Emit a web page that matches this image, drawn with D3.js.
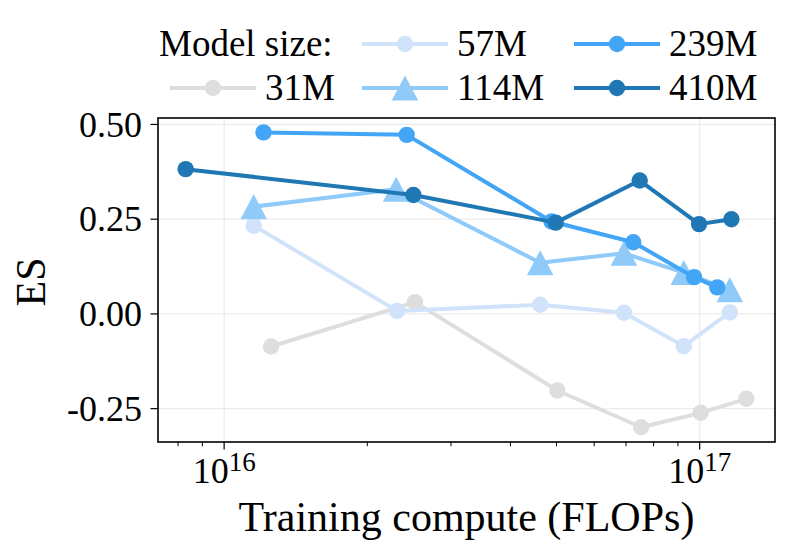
<!DOCTYPE html>
<html>
<head>
<meta charset="utf-8">
<script src="https://cdn.jsdelivr.net/npm/d3@7"></script>
<style>
  html, body { margin: 0; padding: 0; background: #fff; }
  svg { display: block; font-family: "Liberation Serif", "Times New Roman", "DejaVu Serif", serif; }
</style>
</head>
<body>
<svg id="chart" width="792" height="557"></svg>
<script>
// ---- data ----
const seriesNames = ["31M", "57M", "114M", "239M", "410M"];
const seriesColors = ["#dedede", "#d0e3fa", "#90caf9", "#42a5f5", "#1f77b4"];
const seriesMarkers = ["circle", "circle", "triangle", "circle", "circle"];

const compute31M  = [1.255e16, 2.52e16, 5.02e16, 7.53e16, 1.005e17, 1.253e17];
const es31M       = [-0.086, 0.031, -0.202, -0.299, -0.261, -0.224];
const compute57M  = [1.154e16, 2.31e16, 4.62e16, 6.93e16, 9.26e16, 1.157e17];
const es57M       = [0.233, 0.008, 0.024, 0.003, -0.085, 0.004];
const compute114M = [1.154e16, 2.30e16, 4.62e16, 6.93e16, 9.26e16, 1.157e17];
const es114M      = [0.283, 0.329, 0.135, 0.160, 0.109, 0.064];
const compute239M = [1.21e16, 2.42e16, 4.88e16, 7.25e16, 9.73e16, 1.089e17];
const es239M      = [0.479, 0.4725, 0.244, 0.189, 0.097, 0.070];
const compute410M = [8.3e15, 2.5e16, 4.98e16, 7.48e16, 9.97e16, 1.166e17];
const es410M      = [0.382, 0.314, 0.241, 0.352, 0.237, 0.250];

const yTicks = [0.50, 0.25, 0.00, -0.25];
const yTickLabels = ["0.50", "0.25", "0.00", "-0.25"];
const xMajorTicks = [1e16, 1e17];
const xMajorExponents = ["16", "17"];
const xMinorTicks = [8e15, 9e15, 2e16, 3e16, 4e16, 5e16, 6e16, 7e16, 8e16, 9e16];

const legendTitle = "Model size:";
const xLabel = "Training compute (FLOPs)";
const yLabel = "ES";

const allCompute = [compute31M, compute57M, compute114M, compute239M, compute410M];
const allES = [es31M, es57M, es114M, es239M, es410M];

// ---- layout ----
const svg = d3.select("#chart");
const plot = { left: 158, right: 775, top: 118, bottom: 442 };

const x = d3.scaleLog().domain([7.26e15, 1.44e17]).range([plot.left, plot.right]);
const y = d3.scaleLinear().domain([-0.338, 0.517]).range([plot.bottom, plot.top]);

const tickFont = 36;
const labelFont = 42;

// grid
const grid = svg.append("g");
grid.selectAll("line.gy").data(yTicks).join("line")
  .attr("x1", plot.left).attr("x2", plot.right)
  .attr("y1", d => y(d)).attr("y2", d => y(d))
  .attr("stroke", "#ebebeb").attr("stroke-width", 1.2);
grid.selectAll("line.gx").data(xMajorTicks).join("line")
  .attr("y1", plot.top).attr("y2", plot.bottom)
  .attr("x1", d => x(d)).attr("x2", d => x(d))
  .attr("stroke", "#ebebeb").attr("stroke-width", 1.2);

// series
const line = d3.line().x(d => x(d[0])).y(d => y(d[1]));
function trianglePath(cx, cy, hw, hh) {
  return `M${cx},${cy - hh}L${cx + hw},${cy + hh}L${cx - hw},${cy + hh}Z`;
}

seriesNames.forEach((name, i) => {
  const pts = allCompute[i].map((c, j) => [c, allES[i][j]]);
  const g = svg.append("g");
  g.append("path").datum(pts)
    .attr("d", line)
    .attr("fill", "none")
    .attr("stroke", seriesColors[i])
    .attr("stroke-width", 4)
    .attr("stroke-linejoin", "round")
    .attr("stroke-linecap", "butt");
  if (seriesMarkers[i] === "triangle") {
    g.selectAll("path.m").data(pts).join("path")
      .attr("class", "m")
      .attr("d", d => trianglePath(x(d[0]), y(d[1]), 13.3, 12.5))
      .attr("fill", seriesColors[i]);
  } else {
    g.selectAll("circle").data(pts).join("circle")
      .attr("cx", d => x(d[0])).attr("cy", d => y(d[1]))
      .attr("r", 8.2)
      .attr("fill", seriesColors[i]);
  }
});

// axes frame
svg.append("rect")
  .attr("x", plot.left).attr("y", plot.top)
  .attr("width", plot.right - plot.left).attr("height", plot.bottom - plot.top)
  .attr("fill", "none").attr("stroke", "#000").attr("stroke-width", 1.6);

// y axis ticks
const yAxis = svg.append("g");
yAxis.selectAll("line").data(yTicks).join("line")
  .attr("x1", plot.left - 7.5).attr("x2", plot.left)
  .attr("y1", d => y(d)).attr("y2", d => y(d))
  .attr("stroke", "#000").attr("stroke-width", 1.2);
yAxis.selectAll("text").data(yTicks).join("text")
  .attr("x", plot.left - 16)
  .attr("y", d => y(d))
  .attr("dy", "0.34em")
  .attr("text-anchor", "end")
  .attr("font-size", tickFont)
  .attr("fill", "#000")
  .text((d, i) => yTickLabels[i]);

// x axis ticks
const xAxis = svg.append("g");
xAxis.selectAll("line.maj").data(xMajorTicks).join("line")
  .attr("class", "maj")
  .attr("x1", d => x(d)).attr("x2", d => x(d))
  .attr("y1", plot.bottom).attr("y2", plot.bottom + 7.5)
  .attr("stroke", "#000").attr("stroke-width", 1.2);
xAxis.selectAll("line.min").data(xMinorTicks).join("line")
  .attr("class", "min")
  .attr("x1", d => x(d)).attr("x2", d => x(d))
  .attr("y1", plot.bottom).attr("y2", plot.bottom + 4.2)
  .attr("stroke", "#000").attr("stroke-width", 1);
const xt = xAxis.selectAll("text").data(xMajorTicks).join("text")
  .attr("x", d => x(d))
  .attr("y", 483)
  .attr("text-anchor", "middle")
  .attr("font-size", tickFont)
  .attr("fill", "#000");
xt.append("tspan").text("10");
xt.append("tspan").attr("dy", -12).attr("font-size", 27).text((d, i) => xMajorExponents[i]);

// axis labels
svg.append("text")
  .attr("x", (plot.left + plot.right) / 2)
  .attr("y", 531)
  .attr("text-anchor", "middle")
  .attr("font-size", labelFont)
  .attr("fill", "#000")
  .text(xLabel);
svg.append("text")
  .attr("transform", `translate(45,${(plot.top + plot.bottom) / 2 + 2}) rotate(-90)`)
  .attr("text-anchor", "middle")
  .attr("font-size", labelFont)
  .attr("fill", "#000")
  .text(yLabel);

// legend
const legend = svg.append("g");
const rowY = [44, 88];
const colX = [170, 362, 574];
const handleLen = 86;
legend.append("text")
  .attr("x", 159).attr("y", rowY[0])
  .attr("dy", "0.33em")
  .attr("font-size", 37)
  .attr("fill", "#000")
  .text(legendTitle);
seriesNames.forEach((name, i) => {
  const slot = i + 1;
  const col = Math.floor(slot / 2), row = slot % 2;
  const x0 = colX[col], cy = rowY[row];
  legend.append("line")
    .attr("x1", x0).attr("x2", x0 + handleLen)
    .attr("y1", cy).attr("y2", cy)
    .attr("stroke", seriesColors[i]).attr("stroke-width", 4);
  const cx = x0 + handleLen / 2;
  if (seriesMarkers[i] === "triangle") {
    legend.append("path").attr("d", trianglePath(cx, cy, 13.3, 12.5)).attr("fill", seriesColors[i]);
  } else {
    legend.append("circle").attr("cx", cx).attr("cy", cy).attr("r", 8.2).attr("fill", seriesColors[i]);
  }
  legend.append("text")
    .attr("x", x0 + handleLen + 9).attr("y", cy)
    .attr("dy", "0.33em")
    .attr("font-size", 37)
    .attr("fill", "#000")
    .text(name);
});
</script>
</body>
</html>
